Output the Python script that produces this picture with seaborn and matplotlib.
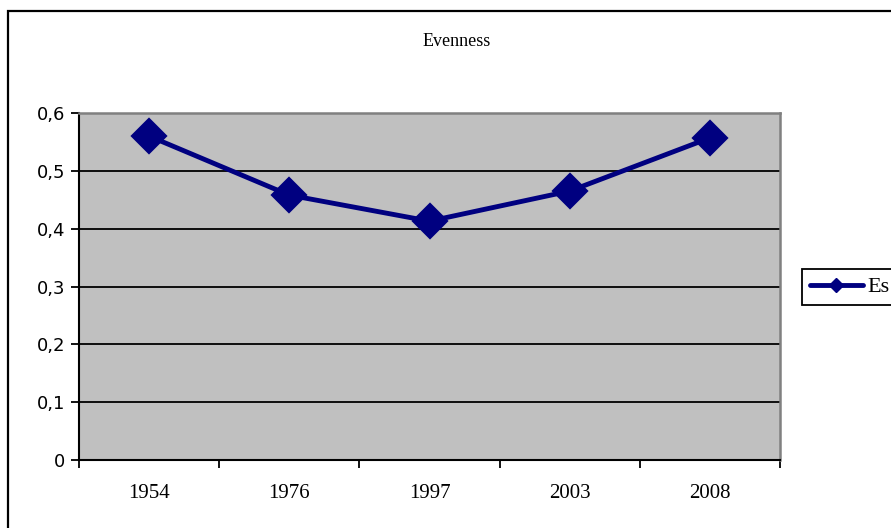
import matplotlib
matplotlib.use("Agg")
import matplotlib.pyplot as plt
import matplotlib.patches as patches
from matplotlib.lines import Line2D
from matplotlib.ticker import MultipleLocator, FuncFormatter, FixedLocator
import seaborn as sns

# Data
years = ["1954", "1976", "1997", "2003", "2008"]
evenness = [0.560, 0.458, 0.413, 0.465, 0.557]
series_name = "Es"

navy = "#000080"

sns.set_style("white")
plt.rcParams["font.family"] = ["DejaVu Sans"]
plt.rcParams["text.color"] = "black"
plt.rcParams["xtick.color"] = "black"
plt.rcParams["ytick.color"] = "black"

fig = plt.figure(figsize=(8.91, 5.28), dpi=100)
ax = fig.add_axes([79 / 891, 1 - 460 / 528, (780 - 79) / 891, (460 - 113) / 528])
ax.set_facecolor("#C0C0C0")

sns.pointplot(x=years, y=evenness, color=navy, markers="D", markersize=16.5,
              linewidth=3.5, errorbar=None, ax=ax)

ax.set_xlim(-0.5, len(years) - 0.5)
ax.set_ylim(0, 0.6)
ax.yaxis.set_major_locator(MultipleLocator(0.1))
ax.yaxis.set_major_formatter(FuncFormatter(
    lambda v, p: "0" if abs(v) < 1e-9 else f"{v:.1f}".replace(".", ",")))
ax.grid(axis="y", color="black", linewidth=1.3)
ax.grid(axis="x", visible=False)
ax.set_axisbelow(True)

ax.xaxis.set_minor_locator(FixedLocator([i - 0.5 for i in range(len(years) + 1)]))
ax.tick_params(axis="x", which="major", bottom=True, length=0, pad=17,
               labelsize=15, labelcolor="black")
ax.tick_params(axis="x", which="minor", bottom=True, length=6, width=1.3,
               direction="out", color="black")
ax.tick_params(axis="y", left=True, length=6, width=1.3, direction="out",
               color="black", labelsize=13, labelcolor="black", pad=4)
for lab in ax.get_xticklabels():
    lab.set_family("Liberation Serif")

for side in ["left", "bottom"]:
    ax.spines[side].set_color("black")
    ax.spines[side].set_linewidth(1.5)
for side in ["top", "right"]:
    ax.spines[side].set_color("#808080")
    ax.spines[side].set_linewidth(1.8)
    ax.spines[side].set_visible(True)

ax.set_xlabel("")
ax.set_ylabel("")

fig.text(457 / 891, 1 - 42 / 528, "Evenness", ha="center", va="center",
         fontsize=13, family="Liberation Serif", color="black")

handle = Line2D([], [], color=navy, linewidth=3.5, marker="D", markersize=7)
leg = fig.legend(handles=[handle], labels=[series_name], loc="center left",
                 bbox_to_anchor=(802 / 891, 1 - 287 / 528), frameon=True,
                 fancybox=False, edgecolor="black", framealpha=1,
                 prop={"family": "Liberation Serif", "size": 16},
                 handlelength=2.4, borderpad=0.35, handletextpad=0.2,
                 borderaxespad=0)
leg.get_frame().set_linewidth(1.3)

# outer chart border (runs past the right and bottom edges)
fig.patches.append(patches.Rectangle((8 / 891, -0.1), 1.2, 1 - 11 / 528 + 0.1,
                                     transform=fig.transFigure, fill=False,
                                     edgecolor="black", linewidth=1.6))

fig.savefig("out.png", dpi=100)
